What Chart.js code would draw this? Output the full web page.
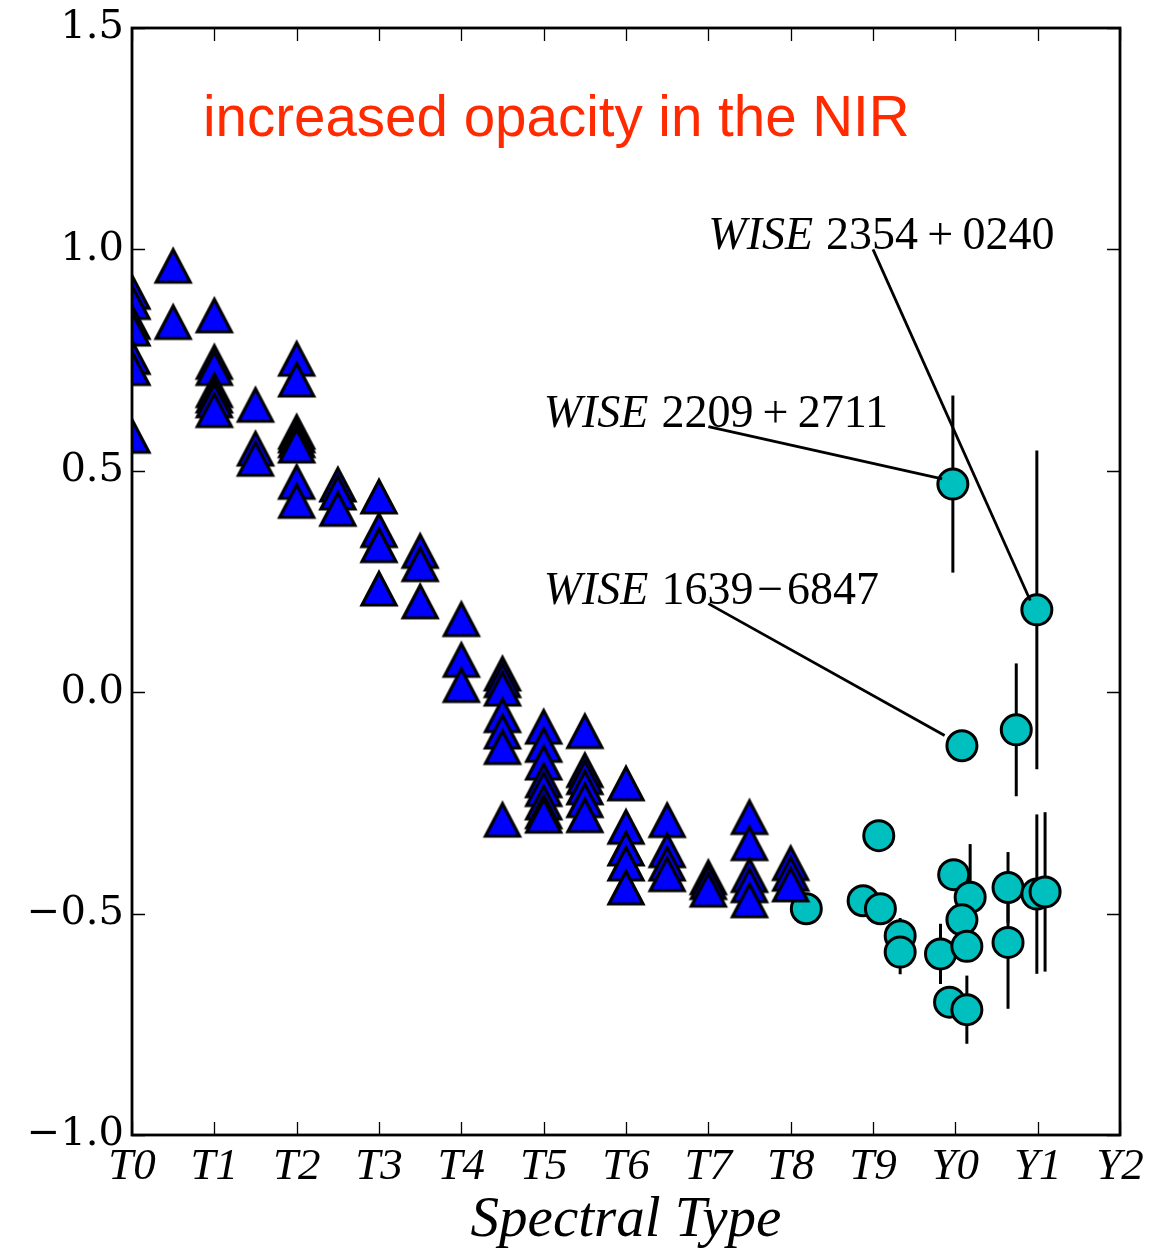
<!DOCTYPE html>
<html><head><meta charset="utf-8">
<script src="https://cdn.jsdelivr.net/npm/chart.js@4.4.1/dist/chart.umd.min.js"></script>
<style>html,body{margin:0;padding:0;background:#fff;}#wrap{width:1166px;height:1255px;}</style>
</head><body><div id="wrap"><canvas id="c" width="1166" height="1255"></canvas></div>
<script>
// ---- data ----
const spectralTickLabels = ['T0','T1','T2','T3','T4','T5','T6','T7','T8','T9','Y0','Y1','Y2'];
const yTickValues = [-1.0, -0.5, 0.0, 0.5, 1.0, 1.5];

// T dwarfs (triangles): spectral type index and value
const triX = [
  0,0,0,0,0,0,0,
  0.5,0.5,
  1,1,1,1,1,1,1,
  1.5,1.5,1.5,
  2,2,2,2,2,2,2,2,
  2.5,2.5,2.5,
  3,3,3,3,
  3.5,3.5,3.5,
  4,4,4,
  4.5,4.5,4.5,4.5,4.5,4.5,4.5,
  5,5,5,5,5,5,5,5,
  5.5,5.5,5.5,5.5,5.5,5.5,
  6,6,6,6,6,
  6.5,6.5,6.5,6.5,
  7,7,7,
  7.5,7.5,7.5,7.5,7.5,
  8,8,8
];
const triY = [
  0.903,0.880,0.835,0.820,0.756,0.731,0.578,
  0.962,0.835,
  0.850,0.745,0.731,0.681,0.669,0.658,0.636,
  0.648,0.549,0.526,
  0.752,0.705,0.587,0.579,0.568,0.556,0.474,0.431,
  0.468,0.450,0.413,
  0.441,0.365,0.331,0.233,
  0.318,0.288,0.204,
  0.164,0.072,0.015,
  0.041,0.026,0.007,-0.053,-0.090,-0.125,-0.289,
  -0.079,-0.120,-0.160,-0.200,-0.220,-0.250,-0.270,-0.280,
  -0.089,-0.177,-0.193,-0.216,-0.245,-0.279,
  -0.207,-0.305,-0.354,-0.388,-0.442,
  -0.290,-0.358,-0.388,-0.412,
  -0.419,-0.430,-0.447,
  -0.283,-0.342,-0.414,-0.437,-0.471,
  -0.387,-0.411,-0.435
];

// Late-T / Y dwarfs (circles) with vertical errors (0 = none)
const circX   = [8.19, 9.07, 8.88, 9.09, 9.33, 9.33, 9.82, 9.98, 10.18, 10.08, 10.14, 9.93, 10.14, 10.64, 10.64, 10.99, 11.09, 9.97, 10.99, 10.74, 10.08];
const circY   = [-0.489,-0.324,-0.471,-0.489,-0.550,-0.587,-0.591,-0.412,-0.463,-0.514,-0.574,-0.700,-0.717,-0.441,-0.565,-0.456,-0.451,0.470,0.186,-0.085,-0.121];
const circErr = [0, 0, 0, 0, 0.04, 0.05, 0.068, 0, 0.12, 0, 0, 0, 0.077, 0.08, 0.15, 0.18, 0.18, 0.2, 0.36, 0.15, 0];

// annotations
const annotNames  = ['2354\u2009+\u20090240', '2209\u2009+\u20092711', '1639\u200a\u2212\u200a6847'];
const annotTextX  = [7.0, 5.0, 5.0];
const annotTextY  = [1.0, 0.6, 0.2];
const annotLineX0 = [9.0, 7.0, 7.0];
const annotLineY0 = [1.0, 0.6, 0.2];
const annotLineX1 = [10.91, 9.84, 9.87];
const annotLineY1 = [0.207, 0.482, -0.098];
const noteText = 'increased opacity in the NIR';
const noteX = 0.862, noteY = 1.256;

// ---- markers ----
function makeTriangle(){
  const c = document.createElement('canvas'); c.width = 44; c.height = 44;
  const g = c.getContext('2d');
  g.beginPath(); g.moveTo(22,5.5); g.lineTo(5,38); g.lineTo(39,38); g.closePath();
  g.fillStyle = '#0000ff'; g.fill();
  g.lineWidth = 3.2; g.lineJoin = 'miter'; g.strokeStyle = '#000'; g.stroke();
  return c;
}
const triMarker = makeTriangle();

const triData = triX.map((x,i)=>({x:x, y:triY[i]}));
const circData = circX.map((x,i)=>({x:x, y:circY[i]}));

const decor = {
  id: 'decor',
  beforeDatasetsDraw(chart){
    const ctx = chart.ctx, xs = chart.scales.x, ys = chart.scales.y;
    ctx.save();
    ctx.strokeStyle = '#000'; ctx.lineWidth = 3; ctx.lineCap = 'butt';
    circX.forEach((x,i)=>{
      const e = circErr[i]; if (!e) return;
      const px = xs.getPixelForValue(x);
      ctx.beginPath();
      ctx.moveTo(px, ys.getPixelForValue(circY[i]-e));
      ctx.lineTo(px, ys.getPixelForValue(circY[i]+e));
      ctx.stroke();
    });
    ctx.restore();
  },
  afterDatasetsDraw(chart){
    const ctx = chart.ctx, xs = chart.scales.x, ys = chart.scales.y, a = chart.chartArea;
    ctx.save();
    // annotation lines
    ctx.strokeStyle = '#000'; ctx.lineWidth = 2.8;
    annotNames.forEach((n,i)=>{
      ctx.beginPath();
      ctx.moveTo(xs.getPixelForValue(annotLineX0[i]), ys.getPixelForValue(annotLineY0[i]));
      ctx.lineTo(xs.getPixelForValue(annotLineX1[i]), ys.getPixelForValue(annotLineY1[i]));
      ctx.stroke();
    });
    // annotation texts
    ctx.fillStyle = '#000'; ctx.textBaseline = 'alphabetic'; ctx.textAlign = 'left';
    annotNames.forEach((n,i)=>{
      let px = xs.getPixelForValue(annotTextX[i]);
      const py = ys.getPixelForValue(annotTextY[i]);
      ctx.font = 'italic 46px "Liberation Serif"';
      ctx.fillText('WISE', px, py);
      px += ctx.measureText('WISE').width + 13;
      ctx.font = '46px "Liberation Serif"';
      ctx.fillText(n, px, py);
    });
    // red note
    ctx.fillStyle = '#ff2a00'; ctx.font = '56.5px "Liberation Sans"';
    ctx.fillText(noteText, xs.getPixelForValue(noteX), ys.getPixelForValue(noteY));
    // frame
    ctx.strokeStyle = '#000'; ctx.lineWidth = 2.8;
    ctx.strokeRect(a.left, a.top, a.right - a.left, a.bottom - a.top);
    // inward ticks on all sides
    ctx.lineWidth = 1.3;
    xs.ticks.forEach(t=>{
      const px = Math.round(xs.getPixelForValue(t.value)) + 0.5;
      ctx.beginPath();
      ctx.moveTo(px, a.bottom); ctx.lineTo(px, a.bottom - 13);
      ctx.moveTo(px, a.top); ctx.lineTo(px, a.top + 13);
      ctx.stroke();
    });
    ys.ticks.forEach(t=>{
      const py = Math.round(ys.getPixelForValue(t.value)) + 0.5;
      ctx.beginPath();
      ctx.moveTo(a.left, py); ctx.lineTo(a.left + 13, py);
      ctx.moveTo(a.right, py); ctx.lineTo(a.right - 13, py);
      ctx.stroke();
    });
    ctx.restore();
  }
};

new Chart(document.getElementById('c'), {
  type: 'scatter',
  data: {
    datasets: [
      { label: 'T dwarfs', data: triData, pointStyle: triMarker, pointRadius: 18, clip: 0 },
      { label: 'Y dwarfs', data: circData, pointStyle: 'circle', pointRadius: 15,
        backgroundColor: 'rgb(0,191,191)', borderColor: '#000', borderWidth: 3, clip: 0 }
    ]
  },
  options: {
    responsive: false, animation: false, events: [],
    layout: { padding: { top: 28, right: 46, left: 0, bottom: 0 } },
    plugins: { legend: { display: false }, tooltip: { enabled: false } },
    scales: {
      x: {
        type: 'linear', min: 0, max: 12,
        afterFit(s){ s.height = 120; },
        grid: { display: false, drawTicks: false },
        border: { display: false },
        ticks: {
          stepSize: 1, autoSkip: false, maxRotation: 0, padding: 5,
          color: '#000', font: { family: 'Liberation Serif', style: 'italic', size: 45 },
          callback: v => spectralTickLabels[v] ?? ''
        },
        title: { display: true, text: 'Spectral Type', color: '#000',
          font: { family: 'Liberation Serif', style: 'italic', size: 57 }, padding: { top: 0, bottom: 0 } }
      },
      y: {
        type: 'linear', min: yTickValues[0], max: yTickValues[yTickValues.length-1],
        afterFit(s){ s.width = 132; },
        afterBuildTicks(s){ s.ticks = yTickValues.map(v=>({value:v})); },
        grid: { display: false, drawTicks: false },
        border: { display: false },
        ticks: {
          padding: 8, color: '#000', font: { family: 'DejaVu Serif', size: 40, lineHeight: 1 },
          callback: v => v.toFixed(1).replace('-', '\u2212')
        }
      }
    }
  },
  plugins: [decor]
});
</script></body></html>
